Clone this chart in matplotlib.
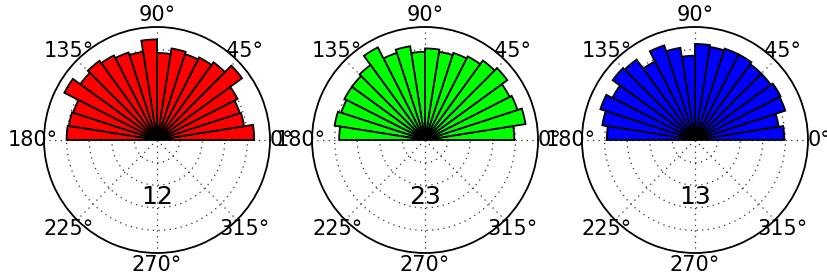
import numpy as np
import matplotlib
matplotlib.use("Agg")
import matplotlib.pyplot as plt

# bin start angles (degrees) and bar lengths
bin_starts_deg = list(range(0, 180, 9))
bin_width_deg = 9
red_vals = [4.3, 3.9, 3.85, 4.0, 4.65, 4.25, 4.1, 4.0, 4.1, 3.85,
            4.45, 3.95, 4.07, 4.2, 4.33, 4.2, 4.6, 3.9, 3.95, 4.0]
green_vals = [3.95, 4.5, 4.3, 4.2, 4.5, 4.35, 4.15, 4.05, 3.95, 4.05,
              3.9, 4.2, 4.05, 4.6, 4.1, 4.0, 4.0, 3.9, 4.05, 3.8]
blue_vals = [3.95, 3.75, 4.2, 4.25, 4.15, 4.15, 4.25, 4.25, 4.17, 4.25,
             3.73, 4.13, 4.4, 3.9, 4.4, 4.5, 4.1, 4.4, 4.15, 3.9]
series = [red_vals, green_vals, blue_vals]
colors = ["#ff0000", "#00ff00", "#0000ff"]
center_labels = ["12", "23", "13"]
theta_tick_deg = [0, 45, 90, 135, 180, 225, 270, 315]
r_max = 5
r_grid = [1, 2, 3, 4]

fig = plt.figure(figsize=(8.27, 2.77), dpi=100)
lefts = [0.0532, 0.3773, 0.7037]
w = 0.2733
bottom = 0.0866
h = 0.816

for left, vals, col, lab in zip(lefts, series, colors, center_labels):
    ax = fig.add_axes([left, bottom, w, h], projection="polar")
    theta = np.deg2rad(bin_starts_deg)
    ax.bar(theta, vals, width=np.deg2rad(bin_width_deg), bottom=0.0,
           align="edge", color=col, edgecolor="black", linewidth=1.3, zorder=3)
    ax.set_ylim(0, r_max)
    ax.set_yticks(r_grid)
    ax.set_yticklabels([])
    ax.set_xticks(np.deg2rad(theta_tick_deg))
    ax.set_xticklabels([])
    ax.grid(True, color="#333333", linestyle=(0, (1, 3.5)), linewidth=0.9)
    ax.spines["polar"].set_linewidth(1.3)
    ax.tick_params(length=0)
    for d in theta_tick_deg:
        a = np.deg2rad(d)
        ax.text(0.5 + 0.55 * np.cos(a), 0.5 + 0.555 * np.sin(a), f"{d}°",
                transform=ax.transAxes, ha="center", va="center",
                fontsize=15, clip_on=False)
    ax.text(0.5, 0.25, lab, transform=ax.transAxes, ha="center", va="center",
            fontsize=18, zorder=5)

fig.savefig("out.png", dpi=100)
